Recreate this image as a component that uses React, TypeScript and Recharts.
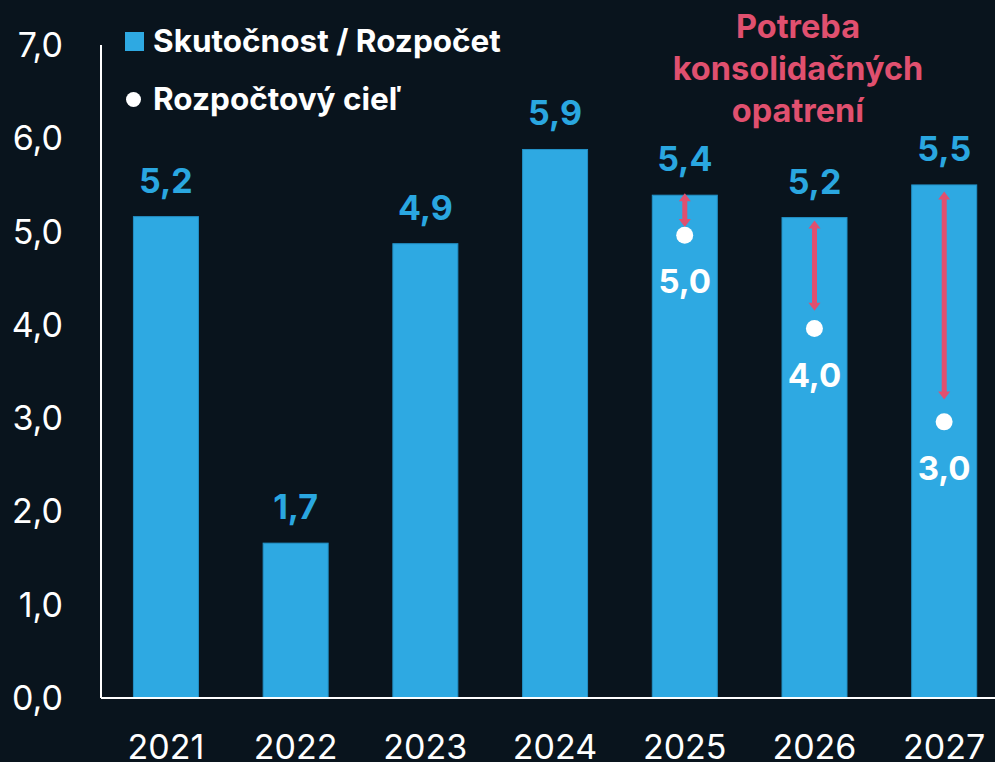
import React from 'react';
import { ComposedChart, Bar, Scatter, XAxis, YAxis, Legend, LabelList } from 'recharts';

const years = ['2021', '2022', '2023', '2024', '2025', '2026', '2027'];
const actual = [5.16, 1.66, 4.87, 5.88, 5.39, 5.15, 5.5];
const target: (number | null)[] = [null, null, null, null, 4.96, 3.96, 2.96];
const arrowTop: (number | null)[] = [null, null, null, null, 5.41, 5.12, 5.43];
const arrowBottom: (number | null)[] = [null, null, null, null, 5.05, 4.15, 3.2];
const yTicks = [0, 1, 2, 3, 4, 5, 6, 7];
const seriesNames = ['Skutočnost / Rozpočet', 'Rozpočtový cieľ'];
const noteLines = ['Potreba', 'konsolidačných', 'opatrení'];

const data = years.map((y, i) => ({
  year: y,
  actual: actual[i],
  target: target[i],
  arrowTop: arrowTop[i],
  arrowBottom: arrowBottom[i],
}));

const FONT = 'Inter, "Noto Sans", sans-serif';
const BG = '#09141d';
const BLUE = '#2ea9e2';
const LABEL_BLUE = '#2aa7e0';
const PINK = '#e0506f';

const fmt = (v: number) => v.toFixed(1).replace('.', ',');

const BarShape = (props: any) => {
  const { x, y, width, height, payload } = props;
  const ppu = height / payload.actual;
  const base = y + height;
  const cx = x + width / 2;
  let arrow = null;
  if (payload.arrowTop != null && payload.arrowBottom != null) {
    const y1 = base - payload.arrowTop * ppu;
    const y2 = base - payload.arrowBottom * ppu;
    const hw = 6;
    const hl = 8;
    arrow = (
      <g>
        <line x1={cx} x2={cx} y1={y1 + hl - 1} y2={y2 - hl + 1} stroke={PINK} strokeWidth={5} />
        <polygon points={`${cx},${y1} ${cx - hw},${y1 + hl} ${cx + hw},${y1 + hl}`} fill={PINK} />
        <polygon points={`${cx},${y2} ${cx - hw},${y2 - hl} ${cx + hw},${y2 - hl}`} fill={PINK} />
      </g>
    );
  }
  return (
    <g>
      <rect x={x} y={y} width={width} height={height} fill={BLUE} stroke="#2391c6" strokeWidth={1} />
      {arrow}
    </g>
  );
};

const DotShape = (props: any) => {
  const { cx, cy, payload } = props;
  if (!payload || payload.target == null || !isFinite(cy)) return <g />;
  return (
    <g>
      <circle cx={cx} cy={cy} r={8.5} fill="#ffffff" />
      <text
        x={cx}
        y={cy + 58}
        textAnchor="middle"
        fill="#ffffff"
        fontSize={33}
        fontWeight={700}
        fontFamily={FONT}
      >
        {fmt(payload.target)}
      </text>
    </g>
  );
};

const BarLabel = (props: any) => {
  const { x, y, width, value } = props;
  return (
    <text
      x={x + width / 2}
      y={y - 24}
      textAnchor="middle"
      fill={LABEL_BLUE}
      fontSize={34}
      fontWeight={700}
      fontFamily={FONT}
    >
      {fmt(Number(value))}
    </text>
  );
};

const LegendContent = (props: any) => {
  const payload = [...(props.payload || [])].sort(
    (a: any, b: any) => (a.type === 'square' ? 0 : 1) - (b.type === 'square' ? 0 : 1)
  );
  return (
    <div style={{ fontFamily: FONT, color: '#ffffff', fontWeight: 700, fontSize: 31.5 }}>
      {payload.map((e: any, i: number) => (
        <div key={i} style={{ display: 'flex', alignItems: 'center', height: 58, whiteSpace: 'nowrap' }}>
          <div style={{ width: 19, height: 19, marginRight: 9, display: 'flex', alignItems: 'center', justifyContent: 'center' }}>
            {e.type === 'circle' ? (
              <div style={{ width: 15, height: 15, borderRadius: '50%', background: '#ffffff', marginLeft: -2 }} />
            ) : (
              <div style={{ width: 19, height: 19, background: BLUE }} />
            )}
          </div>
          <span style={{ lineHeight: '38px' }}>{e.value}</span>
        </div>
      ))}
    </div>
  );
};

export default function App() {
  return (
    <div
      style={{
        position: 'fixed',
        left: 0,
        top: 0,
        width: 995,
        height: 762,
        overflow: 'hidden',
        background: BG,
      }}
    >
      <div style={{ position: 'relative', width: 1012, height: 762 }}>
        <ComposedChart
          width={1012}
          height={762}
          data={data}
          margin={{ top: 45, right: 3, bottom: 0, left: 0 }}
          barCategoryGap="25%"
        >
          <XAxis
            dataKey="year"
            tickLine={false}
            tickSize={0}
            tickMargin={37}
            height={64}
            axisLine={{ stroke: '#ffffff', strokeWidth: 2 }}
            tick={{ fill: '#ffffff', fontSize: 34, fontFamily: FONT }}
            interval={0}
          />
          <YAxis
            domain={[0, 7]}
            ticks={yTicks}
            tickFormatter={fmt}
            width={101}
            tickLine={false}
            tickSize={0}
            tickMargin={38}
            axisLine={{ stroke: '#ffffff', strokeWidth: 2 }}
            tick={{ fill: '#ffffff', fontSize: 34, fontFamily: FONT }}
            interval={0}
          />
          <Legend
            layout="vertical"
            align="center"
            verticalAlign="middle"
            wrapperStyle={{ left: 125, top: 12, width: 'auto' }}
            content={<LegendContent />}
          />
          <Bar
            dataKey="actual"
            name={seriesNames[0]}
            legendType="square"
            fill={BLUE}
            shape={<BarShape />}
            isAnimationActive={false}
          >
            <LabelList dataKey="actual" content={<BarLabel />} />
          </Bar>
          <Scatter
            dataKey="target"
            name={seriesNames[1]}
            legendType="circle"
            fill="#ffffff"
            shape={<DotShape />}
            isAnimationActive={false}
          />
        </ComposedChart>
        <div
          style={{
            position: 'absolute',
            left: 648,
            top: 6,
            width: 300,
            textAlign: 'center',
            fontFamily: FONT,
            fontWeight: 700,
            fontSize: 32.5,
            lineHeight: '42px',
            color: PINK,
          }}
        >
          {noteLines.map((l, i) => (
            <div key={i}>{l}</div>
          ))}
        </div>
      </div>
    </div>
  );
}
